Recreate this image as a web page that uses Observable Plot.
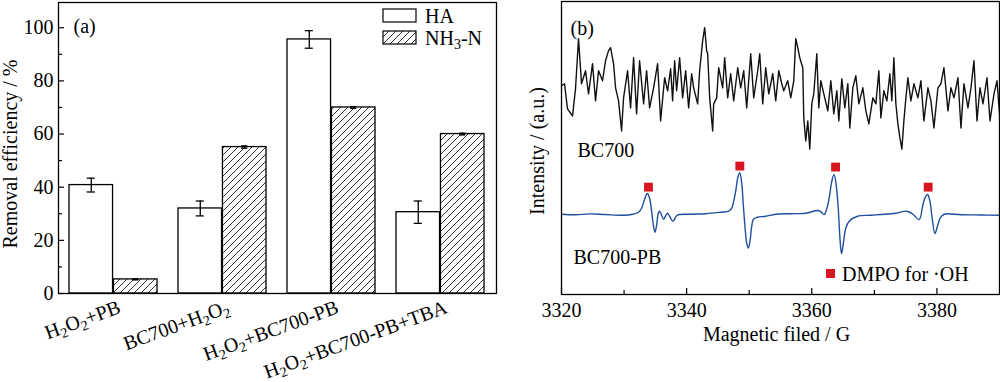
<!DOCTYPE html>
<html><head><meta charset="utf-8">
<script src="https://cdn.jsdelivr.net/npm/d3@7"></script>
<script src="https://cdn.jsdelivr.net/npm/@observablehq/plot@0.6"></script>
<style>
body{margin:0;background:#fff;}
#wrap{display:flex;width:1000px;height:382px;}
#wrap svg{display:block;}
</style></head><body><div id="wrap"></div>
<script>
// ---------- Panel (a) data ----------
const categories = ["H₂O₂+PB", "BC700+H₂O₂", "H₂O₂+BC700-PB", "H₂O₂+BC700-PB+TBA"];
const haValues = [40.8, 32.0, 95.6, 30.6];
const haErrors = [2.6, 2.8, 3.3, 4.2];
const nh3Values = [5.3, 55.1, 70.0, 60.0];
const nh3Errors = [0.15, 0.4, 0.3, 0.3];
const seriesNames = ["HA", "NH₃-N"];
const yTicksMajor = [0, 20, 40, 60, 80, 100];
const yTicksMinor = [10, 30, 50, 70, 90];

// ---------- Panel (b) data ----------
const fieldTicksMajor = [3320, 3340, 3360, 3380];
const fieldTicksMinor = [3330, 3350, 3370];
const bc700Field = [3320.00,3320.48,3320.96,3321.76,3322.24,3322.72,3323.20,3323.84,3324.32,3324.96,3325.44,3325.92,3326.56,3327.04,3327.52,3327.84,3328.32,3328.64,3329.12,3329.60,3329.92,3330.56,3331.04,3331.52,3332.00,3332.48,3333.12,3333.60,3334.08,3334.72,3335.36,3335.84,3336.48,3336.96,3337.44,3337.76,3338.08,3338.40,3338.88,3339.36,3339.84,3340.32,3340.80,3341.12,3341.76,3342.08,3342.56,3342.88,3343.20,3343.36,3343.68,3344.16,3344.32,3344.80,3345.12,3345.76,3346.08,3346.56,3347.04,3347.52,3348.16,3348.64,3349.12,3349.60,3350.24,3350.72,3351.36,3351.68,3352.16,3352.64,3353.12,3353.76,3354.24,3354.72,3355.20,3355.52,3356.16,3356.64,3357.12,3357.44,3357.76,3358.08,3358.56,3358.72,3359.04,3359.36,3359.68,3360.00,3360.32,3360.80,3361.12,3361.44,3361.92,3362.56,3363.04,3363.52,3364.00,3364.32,3364.80,3365.28,3365.76,3366.08,3366.56,3367.04,3367.52,3368.16,3368.64,3369.12,3369.76,3370.24,3370.72,3371.04,3371.52,3372.00,3372.48,3372.80,3373.12,3373.44,3373.76,3374.08,3374.40,3374.72,3375.04,3375.36,3375.84,3376.32,3376.96,3377.44,3377.92,3378.56,3379.04,3379.52,3380.16,3380.64,3381.12,3381.76,3382.24,3382.72,3383.36,3383.84,3384.32,3384.96,3385.44,3385.92,3386.40,3386.88,3387.36,3388.00,3388.48,3389.12,3389.60,3390.00];
const bc700Intensity = [208,210,185,178,205,255,210,223,200,230,193,223,213,233,243,246,230,206,193,163,196,223,186,236,180,233,190,223,186,206,230,173,216,203,225,193,233,203,236,196,223,186,220,206,190,223,253,266,243,240,196,163,190,196,226,206,236,196,220,193,226,206,223,186,240,196,223,240,190,226,200,220,193,223,210,203,213,196,213,255,246,236,226,176,153,173,145,190,200,240,186,213,200,183,213,180,203,173,215,186,210,166,206,218,190,206,183,170,196,190,223,176,203,193,220,193,236,190,170,156,145,173,196,216,193,210,196,213,173,206,193,166,206,210,226,183,206,196,216,166,210,186,206,233,173,206,190,216,173,200,213,180];
const bc700pbField = [3320.00,3322.24,3324.56,3326.96,3329.92,3331.36,3332.32,3332.80,3333.28,3333.71,3334.08,3334.40,3334.64,3334.93,3335.20,3335.47,3335.68,3336.00,3336.32,3336.91,3337.28,3337.81,3338.51,3340.64,3343.04,3345.44,3346.72,3347.20,3347.52,3347.84,3348.16,3348.48,3348.80,3349.07,3349.36,3349.60,3349.87,3350.16,3350.40,3350.67,3351.31,3352.64,3354.24,3356.64,3359.04,3360.91,3361.44,3361.97,3362.51,3362.88,3363.20,3363.57,3363.92,3364.24,3364.48,3364.75,3365.04,3365.44,3365.97,3367.31,3369.44,3371.04,3373.44,3375.20,3376.16,3377.17,3377.71,3378.08,3378.51,3378.88,3379.20,3379.68,3380.08,3380.53,3381.17,3383.84,3387.04,3390.00];
const bc700pbIntensity = [80,79.5,80.3,79.7,79,80,82,86,95,100.7,96,83,71,62,69,81,83,79,75,81,78,73,79,80,80.5,82,83,86,93,103,116,121.3,111,88,65,51,46.3,55,68,75,77,78,80,80.5,81,83.7,82.5,79.7,88,100,113,119.7,108,85,58,40.7,51,66.3,73,78,79,79.7,81,83,80,74.7,88,96,99.7,93,78,60.7,68,76.3,80,79.5,79.2,79];
const dmpoField = [3333.9, 3348.5, 3363.8, 3378.6];
const dmpoIntensity = [107, 128, 127, 107];

// ---------- shared style ----------
const FONT = '"Liberation Serif","Times New Roman",Times,serif';
const style = {fontFamily: FONT, fontSize: "20px", background: "white", color: "black", overflow: "visible"};
const RED = "#d7161f", BLUE = "#1f4f9e";

// ---------- Panel (a) ----------
const W = 500, H = 382;
const mA = {top: 2, right: 4, bottom: 89, left: 58};
const pIn = 0.19, pOut = 0.09;
const innerWA = W - mA.left - mA.right;
const step = innerWA / (categories.length - pIn + 2 * pOut);
const bw = step * (1 - pIn);
const half = bw / 2, quarter = bw / 4;
const capHA = 9, capNH = 7;

const rows = categories.map((c, i) => ({cat: c, ha: haValues[i], haErr: haErrors[i], nh3: nh3Values[i], nh3Err: nh3Errors[i]}));

const hatchDefs = () => {
  const defs = d3.create("svg:defs");
  const p = defs.append("pattern").attr("id", "hatch").attr("patternUnits", "userSpaceOnUse").attr("width", 7).attr("height", 7);
  p.append("rect").attr("width", 7).attr("height", 7).attr("fill", "white");
  p.append("path").attr("d", "M-1,1L1,-1M0,7L7,0M6,8L8,6").attr("stroke", "black").attr("stroke-width", 0.8);
  return defs.node();
};

const legendA = (index, scales, values, dims) => {
  const g = d3.create("svg:g").attr("text-anchor", "start");
  const x0 = dims.width - dims.marginRight - 113;
  const fills = ["white", "url(#hatch)"];
  seriesNames.forEach((name, i) => {
    const y = dims.marginTop + 7 + i * 22;
    g.append("rect").attr("x", x0).attr("y", y).attr("width", 33).attr("height", 13)
      .attr("fill", fills[i]).attr("stroke", "black").attr("stroke-width", 1.2);
    g.append("text").attr("x", x0 + 42).attr("y", y + 6.5).attr("dy", "0.35em")
      .attr("text-anchor", "start").attr("fill", "black").text(name);
  });
  return g.node();
};

const left = Plot.plot({
  width: W, height: H,
  marginTop: mA.top, marginRight: mA.right, marginBottom: mA.bottom, marginLeft: mA.left,
  style,
  x: {domain: categories, type: "band", paddingInner: pIn, paddingOuter: pOut, label: null},
  y: {domain: [0, 109.5], label: null},
  marks: [
    hatchDefs,
    Plot.barY(rows, {x: "cat", y: "ha", fill: "white", stroke: "black", strokeWidth: 1.3, insetRight: half}),
    Plot.barY(rows, {x: "cat", y: "nh3", fill: "url(#hatch)", stroke: "black", strokeWidth: 1.3, insetLeft: half}),
    Plot.ruleX(rows, {x: "cat", y1: d => d.ha - d.haErr, y2: d => d.ha + d.haErr, dx: -quarter, strokeWidth: 1.3}),
    Plot.tickY(rows, {x: "cat", y: d => d.ha + d.haErr, insetLeft: quarter - capHA / 2, insetRight: 3 * quarter - capHA / 2, strokeWidth: 1.3}),
    Plot.tickY(rows, {x: "cat", y: d => d.ha - d.haErr, insetLeft: quarter - capHA / 2, insetRight: 3 * quarter - capHA / 2, strokeWidth: 1.3}),
    Plot.ruleX(rows, {x: "cat", y1: d => d.nh3 - d.nh3Err, y2: d => d.nh3 + d.nh3Err, dx: quarter, strokeWidth: 1.3}),
    Plot.tickY(rows, {x: "cat", y: d => d.nh3 + d.nh3Err, insetLeft: 3 * quarter - capNH / 2, insetRight: quarter - capNH / 2, strokeWidth: 1.5}),
    Plot.tickY(rows, {x: "cat", y: d => d.nh3 - d.nh3Err, insetLeft: 3 * quarter - capNH / 2, insetRight: quarter - capNH / 2, strokeWidth: 1.5}),
    Plot.frame({stroke: "black", strokeWidth: 1.3}),
    Plot.tickY(yTicksMajor, {y: d => d, insetRight: innerWA - 6, strokeWidth: 1.2}),
    Plot.tickY(yTicksMinor, {y: d => d, insetRight: innerWA - 4, strokeWidth: 1.2}),
    Plot.axisY(yTicksMajor, {tickSize: 0, tickPadding: 5, label: null}),
    Plot.axisX({tickSize: 0, tickRotate: -20, textAnchor: "end", lineAnchor: "middle", tickPadding: 13, dx: 6, label: null}),
    Plot.text(["Removal efficiency / %"], {frameAnchor: "left", textAnchor: "middle", rotate: -90, dx: -48, dy: 6, fill: "black"}),
    Plot.text(["(a)"], {frameAnchor: "top-left", textAnchor: "start", dx: 15, dy: 16, fill: "black"}),
    legendA
  ]
});

// ---------- Panel (b) ----------
const mB = {top: 1, right: 1, bottom: 88, left: 61};
const innerHB = H - mB.top - mB.bottom;
const bc700 = bc700Field.map((f, i) => ({field: f, intensity: bc700Intensity[i]}));
const bc700pb = bc700pbField.map((f, i) => ({field: f, intensity: bc700pbIntensity[i]}));
const dmpo = dmpoField.map((f, i) => ({field: f, intensity: dmpoIntensity[i]}));

const legendB = (index, scales, values, dims) => {
  const g = d3.create("svg:g").attr("text-anchor", "start");
  const xR = dims.width - dims.marginRight, yB = dims.height - dims.marginBottom;
  g.append("rect").attr("x", xR - 173).attr("y", yB - 25).attr("width", 9).attr("height", 9).attr("fill", RED);
  g.append("text").attr("x", xR - 157).attr("y", yB - 20.5).attr("dy", "0.35em")
    .attr("text-anchor", "start").attr("fill", "black").text("DMPO for ·OH");
  return g.node();
};

const right = Plot.plot({
  width: W, height: H,
  marginTop: mB.top, marginRight: mB.right, marginBottom: mB.bottom, marginLeft: mB.left,
  style,
  x: {domain: [3320, 3390], label: null},
  y: {domain: [0, 292], axis: null},
  marks: [
    Plot.line(bc700, {x: "field", y: "intensity", stroke: "#111", strokeWidth: 1.4}),
    Plot.line(bc700pb, {x: "field", y: "intensity", stroke: BLUE, strokeWidth: 1.4, curve: "catmull-rom"}),
    Plot.dot(dmpo, {x: "field", y: "intensity", symbol: "square", r: 5, fill: RED, stroke: "none"}),
    Plot.frame({stroke: "black", strokeWidth: 1.3}),
    Plot.tickX(fieldTicksMajor, {x: d => d, insetTop: innerHB - 6, strokeWidth: 1.2}),
    Plot.tickX(fieldTicksMinor, {x: d => d, insetTop: innerHB - 4, strokeWidth: 1.2}),
    Plot.axisX(fieldTicksMajor, {tickSize: 0, tickPadding: 8, tickFormat: d3.format("d"), label: null}),
    Plot.text(["Magnetic filed / G"], {frameAnchor: "bottom", textAnchor: "middle", dx: -4, dy: 46, fill: "black"}),
    Plot.text(["Intensity / (a.u.)"], {frameAnchor: "left", textAnchor: "middle", rotate: -90, dx: -24, dy: 3, fill: "black"}),
    Plot.text(["(b)"], {frameAnchor: "top-left", textAnchor: "start", dx: 9, dy: 19, fill: "black"}),
    Plot.text(["BC700"], {frameAnchor: "top-left", textAnchor: "start", dx: 16, dy: 141, fill: "black"}),
    Plot.text(["BC700-PB"], {frameAnchor: "top-left", textAnchor: "start", dx: 12, dy: 248, fill: "black"}),
    legendB
  ]
});

// ---------- subscripts as real tspans ----------
function subscriptify(svg) {
  const subs = {"₂": "2", "₃": "3"};
  d3.select(svg).selectAll("text").each(function () {
    const s = this.textContent;
    if (!/[₂₃]/.test(s)) return;
    const runs = [];
    for (const ch of s) {
      const isSub = ch in subs;
      const c = isSub ? subs[ch] : ch;
      if (runs.length && runs[runs.length - 1].sub === isSub) runs[runs.length - 1].t += c;
      else runs.push({sub: isSub, t: c});
    }
    const el = d3.select(this);
    el.text(null);
    let prevSub = false;
    runs.forEach(r => {
      const ts = el.append("tspan").text(r.t);
      if (r.sub) { ts.attr("font-size", "14px").attr("dy", 4); prevSub = true; }
      else if (prevSub) { ts.attr("dy", -4); prevSub = false; }
    });
  });
}
subscriptify(left);
subscriptify(right);

document.getElementById("wrap").append(left, right);
</script>
</body></html>
